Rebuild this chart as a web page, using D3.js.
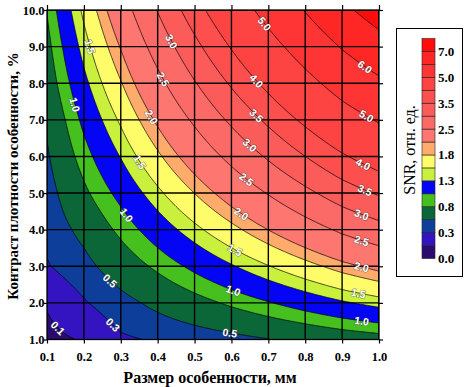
<!DOCTYPE html>
<html><head><meta charset="utf-8">
<script src="https://cdn.jsdelivr.net/npm/d3@7"></script>
<style>body{margin:0;background:#fff}svg{display:block}</style>
</head><body>
<svg id="chart" width="466" height="387"></svg>
<script>
// ---------- data ----------
const sizeVals = [0.1, 0.2, 0.3, 0.4, 0.5, 0.6, 0.7, 0.8, 0.9, 1.0];      // mm
const contrastVals = [1, 2, 3, 4, 5, 6, 7, 8, 9, 10];                     // %
// SNR, one row per contrast value (1 .. 10 %)
const snrC1  = [0.05, 0.115, 0.27, 0.32, 0.37, 0.425, 0.49, 0.556, 0.626, 0.685];
const snrC2  = [0.115, 0.281, 0.421, 0.562, 0.702, 0.843, 0.983, 1.124, 1.264, 1.384];
const snrC3  = [0.285, 0.425, 0.638, 0.850, 1.063, 1.275, 1.488, 1.700, 1.913, 2.094];
const snrC4  = [0.35, 0.572, 0.859, 1.145, 1.431, 1.717, 2.004, 2.290, 2.576, 2.820];
const snrC5  = [0.40, 0.747, 1.083, 1.443, 1.804, 2.165, 2.526, 2.887, 3.248, 3.555];
const snrC6  = [0.47, 0.905, 1.312, 1.749, 2.186, 2.624, 3.061, 3.498, 3.936, 4.308];
const snrC7  = [0.54, 1.064, 1.543, 2.058, 2.572, 3.087, 3.601, 4.115, 4.630, 5.068];
const snrC8  = [0.64, 1.228, 1.781, 2.374, 2.968, 3.562, 4.155, 4.749, 5.342, 5.848];
const snrC9  = [0.72, 1.393, 2.020, 2.693, 3.366, 4.040, 4.713, 5.386, 6.060, 6.633];
const snrC10 = [0.81, 1.562, 2.266, 3.021, 3.776, 4.531, 5.286, 6.042, 6.797, 7.44];
const snrRows = [snrC1, snrC2, snrC3, snrC4, snrC5, snrC6, snrC7, snrC8, snrC9, snrC10];

const levels = [0.1, 0.3, 0.5, 0.8, 1.0, 1.3, 1.5, 1.8, 2.0, 2.5, 3.0, 3.5, 4.0, 5.0, 6.0, 7.0];
const bandColors = ["#2b0c6e", "#3414c0", "#0d3f9a", "#0b6638", "#45c01f", "#0505f5",
  "#c8f03c", "#fffc6a", "#ffab6b", "#fd7670", "#fb6a66", "#fb5c5a", "#fd4f4e",
  "#fe4343", "#ff3535", "#ff2626", "#ff0d0d"];
const legendTicks = ["0.0", "0.3", "0.8", "1.3", "1.8", "2.5", "3.5", "5.0", "7.0"];
const xTickLabels = ["0.1","0.2","0.3","0.4","0.5","0.6","0.7","0.8","0.9","1.0"];
const yTickLabels = ["1.0","2.0","3.0","4.0","5.0","6.0","7.0","8.0","9.0","10.0"];
// contour labels: level and the feature size where the label sits
const labelLevels = [0.1, 0.3, 0.5, 1.0, 1.5, 2.0, 2.5, 3.0, 1.0, 1.5,
                     0.5, 1.0, 1.5, 2.0, 2.5, 3.0, 3.5, 4.0, 5.0,
                     1.0, 1.5, 2.0, 2.5, 3.0, 3.5, 4.0, 5.0, 6.0];
const labelSizes  = [0.13, 0.279, 0.271, 0.316, 0.352, 0.384, 0.415, 0.438, 0.176, 0.217,
                     0.596, 0.605, 0.61, 0.627, 0.641, 0.65, 0.668, 0.668, 0.69,
                     0.953, 0.944, 0.953, 0.953, 0.953, 0.962, 0.957, 0.966, 0.962];

const xTitle = "Размер особенности, мм";
const yTitle = "Контраст плотности особенности, %";
const legendTitle = "SNR, отн. ед.";

// ---------- layout ----------
const svg = d3.select("#chart");
const L = 47, R = 379, T = 10, B = 339.5;
const x = d3.scaleLinear().domain([0.1, 1.0]).range([L, R]);
const y = d3.scaleLinear().domain([1, 10]).range([B, T]);
const serif = "'Liberation Serif','Times New Roman',serif";

// bilinear lookup into the read grid (for drawing smooth contours)
function field(sx, cy) {
  const n = sizeVals.length, m = contrastVals.length;
  let fi = (sx - sizeVals[0]) / (sizeVals[1] - sizeVals[0]);
  let fj = (cy - contrastVals[0]) / (contrastVals[1] - contrastVals[0]);
  fi = Math.max(0, Math.min(n - 1, fi)); fj = Math.max(0, Math.min(m - 1, fj));
  const i0 = Math.min(n - 2, Math.floor(fi)), j0 = Math.min(m - 2, Math.floor(fj));
  const t = fi - i0, u = fj - j0;
  return (1-t)*(1-u)*snrRows[j0][i0] + t*(1-u)*snrRows[j0][i0+1] +
         (1-t)*u*snrRows[j0+1][i0] + t*u*snrRows[j0+1][i0+1];
}

const nx = 300, ny = 300;
const x0 = sizeVals[0], x1 = sizeVals[sizeVals.length-1];
const y0 = contrastVals[0], y1 = contrastVals[contrastVals.length-1];
const values = new Float64Array(nx * ny);
for (let j = 0; j < ny; j++) for (let i = 0; i < nx; i++) {
  values[j*nx + i] = field(x0 + (i + 0.5) * (x1 - x0) / nx, y1 - (j + 0.5) * (y1 - y0) / ny);
}
const contours = d3.contours().size([nx, ny]).thresholds(levels)(values);
const proj = d3.geoTransform({ point: function(cx, cy) {
  this.stream.point(x(x0 + cx * (x1 - x0) / nx), y(y1 - cy * (y1 - y0) / ny));
}});
const path = d3.geoPath(proj);

svg.append("defs").append("clipPath").attr("id", "plotclip")
  .append("rect").attr("x", L).attr("y", T).attr("width", R - L).attr("height", B - T);

const plot = svg.append("g").attr("clip-path", "url(#plotclip)");
plot.append("rect").attr("x", L).attr("y", T).attr("width", R - L).attr("height", B - T)
  .attr("fill", bandColors[0]);
plot.selectAll("path.fill").data(contours).join("path").attr("class", "fill")
  .attr("d", path).attr("fill", (d, i) => bandColors[i + 1]);
plot.selectAll("path.line").data(contours).join("path").attr("class", "line")
  .attr("d", path).attr("fill", "none").attr("stroke", "#000").attr("stroke-width", 0.8)
  .attr("stroke-opacity", 0.9);

// grid lines
plot.selectAll("line.gx").data(sizeVals.slice(1, -1)).join("line")
  .attr("x1", d => x(d)).attr("x2", d => x(d)).attr("y1", T).attr("y2", B)
  .attr("stroke", "#000").attr("stroke-width", 1.4);
plot.selectAll("line.gy").data(contrastVals.slice(1, -1)).join("line")
  .attr("y1", d => y(d)).attr("y2", d => y(d)).attr("x1", L).attr("x2", R)
  .attr("stroke", "#000").attr("stroke-width", 1.4);

// contour labels
const labels = plot.append("g");
labelLevels.forEach((lev, k) => {
  const sx = labelSizes[k];
  let lo = y0, hi = y1;
  for (let it = 0; it < 50; it++) {
    const mid = (lo + hi) / 2;
    if (field(sx, mid) < lev) lo = mid; else hi = mid;
  }
  const cy = (lo + hi) / 2;
  const h = 0.004, hy = 0.04;
  const gx = (field(sx + h, cy) - field(sx - h, cy)) / (x(sx + h) - x(sx - h));
  const gy = (field(sx, cy + hy) - field(sx, cy - hy)) / (y(cy + hy) - y(cy - hy));
  let ang = Math.atan2(gx, -gy) * 180 / Math.PI;
  if (ang > 90) ang -= 180; if (ang < -90) ang += 180;
  labels.append("text")
    .attr("transform", `translate(${x(sx)},${y(cy)}) rotate(${ang})`)
    .attr("text-anchor", "middle").attr("dominant-baseline", "central")
    .attr("font-family", "'Liberation Sans',Arial,sans-serif").attr("font-weight", "bold")
    .attr("font-size", 10.5).attr("fill", "#fff")
    .attr("stroke", "rgba(60,60,60,0.55)").attr("stroke-width", 1.2).attr("paint-order", "stroke")
    .text(d3.format(".1f")(lev));
});

// frame
svg.append("rect").attr("x", L).attr("y", T).attr("width", R - L).attr("height", B - T)
  .attr("fill", "none").attr("stroke", "#000").attr("stroke-width", 1.3);

// axes
const fontAxis = g => g.selectAll("text").attr("font-family", serif).attr("font-weight", "bold")
  .attr("font-size", 12.5).attr("fill", "#000");
const xb = svg.append("g").attr("transform", `translate(0,${B})`)
  .call(d3.axisBottom(x).tickValues(sizeVals).tickSize(4).tickPadding(8.5)
    .tickFormat((d, i) => xTickLabels[i]));
xb.call(fontAxis);
const yl = svg.append("g").attr("transform", `translate(${L},0)`)
  .call(d3.axisLeft(y).tickValues(contrastVals).tickSize(3).tickPadding(-0.5)
    .tickFormat((d, i) => yTickLabels[i]));
yl.call(fontAxis);
svg.append("g").attr("transform", `translate(0,${T})`)
  .call(d3.axisTop(x).tickValues(sizeVals).tickSize(5).tickFormat(""));
svg.append("g").attr("transform", `translate(${R},0)`)
  .call(d3.axisRight(y).tickValues(contrastVals).tickSize(4).tickFormat(""));
svg.selectAll(".domain").remove();
svg.selectAll(".tick line").attr("stroke", "#000").attr("stroke-width", 1.2);

// axis titles
svg.append("text").attr("x", 210).attr("y", 383).attr("text-anchor", "middle")
  .attr("font-family", serif).attr("font-weight", "bold").attr("font-size", 16).text(xTitle);
svg.append("text").attr("transform", "translate(17.5,176) rotate(-90)").attr("text-anchor", "middle")
  .attr("font-family", serif).attr("font-weight", "bold").attr("font-size", 15).text(yTitle);

// legend
const lg = svg.append("g");
lg.append("rect").attr("x", 396.5).attr("y", 28.5).attr("width", 66).attr("height", 248)
  .attr("fill", "#fff").attr("stroke", "#000").attr("stroke-width", 1);
const ly = d3.scaleLinear().domain([0, bandColors.length]).range([258.5, 38.5]);
lg.selectAll("rect.sw").data(bandColors).join("rect").attr("class", "sw")
  .attr("x", 422).attr("width", 13)
  .attr("y", (d, i) => ly(i + 1)).attr("height", (d, i) => ly(i) - ly(i + 1))
  .attr("fill", d => d).attr("stroke", "#222").attr("stroke-width", 0.6);
lg.selectAll("text.lt").data(legendTicks).join("text").attr("class", "lt")
  .attr("x", 438).attr("y", (d, i) => ly(i * 2)).attr("dominant-baseline", "central")
  .attr("font-family", serif).attr("font-weight", "bold").attr("font-size", 13).text(d => d);
lg.append("text").attr("transform", "translate(415,150) rotate(-90)").attr("text-anchor", "middle")
  .attr("font-family", serif).attr("font-size", 16).text(legendTitle);
</script>
</body></html>
